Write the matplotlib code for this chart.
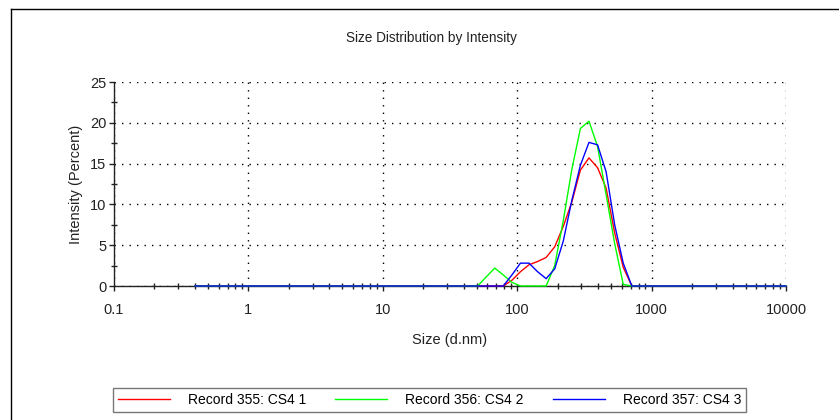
import matplotlib
matplotlib.use('Agg')
import matplotlib.pyplot as plt
from matplotlib.lines import Line2D
from matplotlib.ticker import FixedLocator, FixedFormatter, MultipleLocator, LogLocator

plt.rcParams['font.family'] = ['Liberation Sans', 'DejaVu Sans']

# size bins (d.nm)
sizes = [0.4, 0.4632, 0.5365, 0.6213, 0.7195, 0.8332, 0.9649, 1.117, 1.294, 1.499,
         1.736, 2.010, 2.328, 2.696, 3.122, 3.615, 4.187, 4.849, 5.615, 6.503,
         7.531, 8.721, 10.10, 11.70, 13.54, 15.69, 18.17, 21.04, 24.36, 28.21,
         32.67, 37.84, 43.82, 50.75, 58.77, 68.06, 78.82, 91.28, 105.7, 122.4,
         141.8, 164.2, 190.1, 220.2, 255.0, 295.3, 342.0, 396.1, 458.7, 531.2,
         615.1, 712.4, 825.0, 955.4, 1106, 1281, 1484, 1718, 1990, 2305,
         2669, 3091, 3580, 4145, 4801, 5560, 6439, 7456, 8635, 10000]

rec355 = [0, 0, 0, 0, 0, 0, 0, 0, 0, 0,
          0, 0, 0, 0, 0, 0, 0, 0, 0, 0,
          0, 0, 0, 0, 0, 0, 0, 0, 0, 0,
          0, 0, 0, 0, 0, 0, 0, 0.7, 1.75, 2.6,
          3.0, 3.5, 4.8, 7.3, 10.3, 14.2, 15.7, 14.5, 12.0, 6.5,
          2.3, 0, 0, 0, 0, 0, 0, 0, 0, 0,
          0, 0, 0, 0, 0, 0, 0, 0, 0, 0]

rec356 = [0, 0, 0, 0, 0, 0, 0, 0, 0, 0,
          0, 0, 0, 0, 0, 0, 0, 0, 0, 0,
          0, 0, 0, 0, 0, 0, 0, 0, 0, 0,
          0, 0, 0, 0, 1.1, 2.2, 1.35, 0.45, 0, 0,
          0, 0, 2.5, 8.0, 14.3, 19.3, 20.2, 17.1, 11.2, 5.2,
          0.2, 0, 0, 0, 0, 0, 0, 0, 0, 0,
          0, 0, 0, 0, 0, 0, 0, 0, 0, 0]

rec357 = [0, 0, 0, 0, 0, 0, 0, 0, 0, 0,
          0, 0, 0, 0, 0, 0, 0, 0, 0, 0,
          0, 0, 0, 0, 0, 0, 0, 0, 0, 0,
          0, 0, 0, 0, 0, 0, 0, 1.35, 2.8, 2.8,
          1.75, 0.9, 2.1, 5.5, 10.5, 14.8, 17.6, 17.3, 14.0, 7.5,
          2.8, 0, 0, 0, 0, 0, 0, 0, 0, 0,
          0, 0, 0, 0, 0, 0, 0, 0, 0, 0]

labels = ['Record 355: CS4 1', 'Record 356: CS4 2', 'Record 357: CS4 3']
colors = ['#ff0000', '#00ff00', '#0000ff']
x_ticks = [0.1, 1, 10, 100, 1000, 10000]
x_tick_labels = ['0.1', '1', '10', '100', '1000', '10000']

fig = plt.figure(figsize=(8.39, 4.2), dpi=100)
ax = fig.add_axes([114/839, 134/420, 672/839, 204/420])

for y, lab, c in zip([rec355, rec356, rec357], labels, colors):
    ax.plot(sizes, y, color=c, lw=1.0, label=lab, clip_on=False, zorder=3)

ax.set_xscale('log')
ax.set_xlim(0.1, 10000)
ax.set_ylim(0, 25)
ax.xaxis.set_major_locator(FixedLocator(x_ticks))
ax.xaxis.set_major_formatter(FixedFormatter(x_tick_labels))
ax.xaxis.set_minor_locator(LogLocator(base=10, subs=range(2, 10), numticks=20))
ax.yaxis.set_major_locator(MultipleLocator(5))
ax.yaxis.set_minor_locator(MultipleLocator(2.5))

ax.grid(True, which='major', color='black', lw=1.0, linestyle=(0, (1, 4.4)))
ax.set_axisbelow(True)

for s in ['top', 'right']:
    ax.spines[s].set_visible(False)
for s in ['left', 'bottom']:
    ax.spines[s].set_color('#222222')
    ax.spines[s].set_linewidth(1.0)

ax.tick_params(axis='both', which='major', direction='out', length=3.5, width=1,
               labelsize=10.5, colors='#222222')
ax.tick_params(axis='y', which='major', pad=2)
ax.tick_params(axis='x', which='major', pad=9)
ax.tick_params(axis='both', which='minor', direction='inout', length=5, width=1,
               colors='#222222')

ax.set_title('Size Distribution by Intensity', fontsize=9.8, pad=29, x=0.472,
             color='#222222')
ax.set_xlabel('Size (d.nm)', fontsize=10.5, labelpad=11, color='#222222')
ax.set_ylabel('Intensity (Percent)', fontsize=10.5, labelpad=5, color='#222222')

leg = fig.legend(loc='lower left', bbox_to_anchor=(113/839, 8/420, 633/839, 24/420),
                 mode='expand', ncol=3, fontsize=10, frameon=True, fancybox=False,
                 handlelength=3.75, handletextpad=1.3, borderaxespad=0,
                 borderpad=0.35)
leg.get_frame().set_edgecolor('#555555')
leg.get_frame().set_linewidth(1.0)

# outer frame lines (top and left)
fig.add_artist(Line2D([11/839, 1.0], [1 - 9/420, 1 - 9/420], transform=fig.transFigure,
                      color='black', lw=1.0))
fig.add_artist(Line2D([11/839, 11/839], [0, 1 - 9/420], transform=fig.transFigure,
                      color='black', lw=1.0))

fig.savefig('out.png', dpi=100)
